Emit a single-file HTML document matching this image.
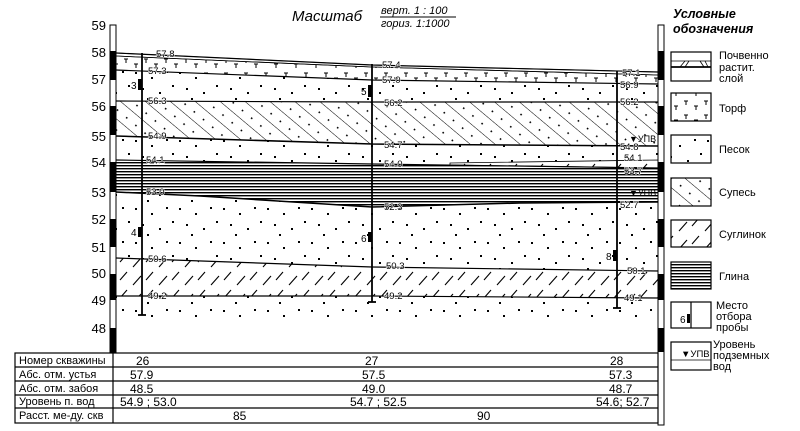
<!DOCTYPE html>
<html><head><meta charset="utf-8"><style>
html,body{margin:0;padding:0;background:#fff;width:800px;height:431px;overflow:hidden}
text{font-family:"Liberation Sans",sans-serif;fill:#000}
</style></head><body>
<svg width="800" height="431" viewBox="0 0 800 431" xmlns="http://www.w3.org/2000/svg">
<defs>
<pattern id="sand" width="44" height="34" patternUnits="userSpaceOnUse">
<g fill="#000"><rect x="3" y="4" width="2" height="2"/><rect x="19" y="9" width="2" height="2"/><rect x="34" y="3" width="2" height="2"/><rect x="10" y="20" width="2" height="2"/><rect x="27" y="24" width="2" height="2"/><rect x="40" y="17" width="2" height="2"/><rect x="15" y="30" width="2" height="2"/></g>
</pattern>
<pattern id="peat" width="20" height="14" patternUnits="userSpaceOnUse">
<g stroke="#000" stroke-width="1"><path d="M4 3h4M6 3v4M14 8h4M16 8v4"/></g>
</pattern>
<pattern id="supes" width="24" height="16" patternUnits="userSpaceOnUse" patternTransform="rotate(40)">
<line x1="0" y1="0" x2="24" y2="0" stroke="#000" stroke-width="1"/>
<g fill="#000"><rect x="4" y="8" width="1.6" height="1.6"/><rect x="16" y="8" width="1.6" height="1.6"/></g>
</pattern>
<pattern id="sugl" width="26" height="18" patternUnits="userSpaceOnUse">
<g stroke="#000" stroke-width="1.1"><path d="M3 15L11 6M16 10L23 2"/></g>
</pattern>
<pattern id="clay" width="10" height="3" patternUnits="userSpaceOnUse">
<rect x="0" y="0" width="10" height="1.4" fill="#000"/>
</pattern>
</defs>

<!-- header -->
<text x="292" y="21" font-size="15" font-style="italic">Масштаб</text>
<text x="381" y="14" font-size="11" font-style="italic">верт. 1 : 100</text>
<line x1="380" y1="17" x2="456" y2="17" stroke="#000" stroke-width="1"/>
<text x="381" y="27" font-size="11" font-style="italic">гориз. 1:1000</text>
<text x="673" y="18" font-size="12.5" font-weight="bold" font-style="italic">Условные</text>
<text x="673" y="33" font-size="12.5" font-weight="bold" font-style="italic">обозначения</text>

<!-- layers -->
<polygon points="116,53 372,65 658,72 658,75 372,67 116,56" fill="#fff" stroke="#000" stroke-width="0.8"/>
<polygon points="116,56 372,67 658,75 658,84 372,80 116,70" fill="url(#peat)"/>
<polygon points="116,70 372,80 658,84 658,102 372,102 116,101" fill="url(#sand)"/>
<polygon points="116,101 372,102 658,102 658,146 372,144 116,136" fill="url(#supes)"/>
<polygon points="116,136 372,144 658,146 658,160 450,163 372,164 116,160" fill="url(#sand)"/>
<polygon points="450,163 658,160 658,168 450,165" fill="url(#sugl)" stroke="#000" stroke-width="0.8"/>
<polygon points="116,160 372,164 450,165 658,168 658,202 520,203 372,207 200,196 116,192" fill="url(#clay)"/>
<polygon points="116,192 200,196 372,207 520,203 658,202 658,271 372,267 116,258" fill="url(#sand)"/>
<polygon points="116,258 372,267 658,271 658,298 372,296 116,296" fill="url(#sugl)"/>
<polygon points="116,296 372,296 658,298 658,330 116,330" fill="url(#sand)"/>
<rect x="116" y="318" width="542" height="32" fill="#fff"/>

<g stroke="#000" fill="none" stroke-width="1.2">
<polyline points="116,53 372,65 658,72"/>
<polyline points="116,56 372,67 658,75" stroke-width="0.8"/>
<polyline points="116,70 372,80 658,84"/>
<polyline points="116,101 372,102 658,102"/>
<polyline points="116,136 372,144 658,146" stroke-width="1.5"/>
<polyline points="116,160 372,164 658,168"/>
<polyline points="116,192 200,196 372,207 520,203 658,202" stroke-width="1.5"/>
<polyline points="116,258 372,267 658,271"/>
<polyline points="116,296 372,296 658,298"/>
</g>

<!-- wells -->
<g stroke="#000" stroke-width="1.8">
<line x1="142" y1="53" x2="142" y2="315"/><line x1="138" y1="315" x2="146" y2="315"/>
<line x1="372" y1="64" x2="372" y2="302"/><line x1="368" y1="302" x2="376" y2="302"/>
<line x1="617" y1="71" x2="617" y2="308"/><line x1="613" y1="308" x2="621" y2="308"/>
</g>
<g fill="#000">
<rect x="138" y="79" width="4" height="11"/><rect x="368" y="85" width="4" height="12"/>
<rect x="138" y="227" width="4" height="10"/><rect x="368" y="232" width="4" height="10"/>
<rect x="613" y="250" width="4" height="11"/>
</g>
<g font-size="10">
<text x="131" y="89">3</text><text x="361" y="95">5</text><text x="131" y="236">4</text><text x="361" y="242">6</text><text x="606" y="260">8</text>
</g>

<!-- elevation labels -->
<g font-size="9.5" style="paint-order:stroke" stroke="#fff" stroke-width="1">
<text x="156" y="57">57.8</text><text x="148" y="74">57.3</text><text x="148" y="104">56.3</text><text x="148" y="139">54.9</text>
<text x="146" y="163">54.1</text><text x="146" y="195">53.0</text><text x="148" y="262">50.6</text><text x="148" y="299">49.2</text>
<text x="382" y="68">57.4</text><text x="382" y="83">57.0</text><text x="384" y="106">56.2</text><text x="384" y="148">54.7</text>
<text x="384" y="167">54.0</text><text x="384" y="210">52.3</text><text x="386" y="269">50.3</text><text x="384" y="299">49.2</text>
<text x="622" y="76">57.1</text><text x="620" y="88">56.9</text><text x="620" y="105">56.2</text><text x="620" y="150">54.8</text>
<text x="624" y="161">54.1</text><text x="624" y="174">53.7</text><text x="620" y="208">52.7</text><text x="627" y="274">50.1</text><text x="624" y="301">49.1</text>
</g>
<g font-size="9"><text x="629" y="142">▼УПВ</text><text x="629" y="196">▼УПВ</text></g>

<!-- rulers -->
<rect x="110" y="25" width="6" height="327" fill="#fff" stroke="#000" stroke-width="1"/>
<g fill="#000">
<rect x="110" y="51" width="6" height="29"/><rect x="110" y="106" width="6" height="29"/><rect x="110" y="162" width="6" height="30"/>
<rect x="110" y="219" width="6" height="28"/><rect x="110" y="274" width="6" height="26"/><rect x="110" y="328" width="6" height="24"/>
</g>
<rect x="658" y="25" width="6" height="400" fill="#fff" stroke="#000" stroke-width="1"/>
<g fill="#000">
<rect x="658" y="51" width="6" height="29"/><rect x="658" y="106" width="6" height="29"/><rect x="658" y="162" width="6" height="30"/>
<rect x="658" y="219" width="6" height="28"/><rect x="658" y="274" width="6" height="26"/><rect x="658" y="328" width="6" height="24"/>
</g>
<g font-size="13" text-anchor="end">
<text x="106" y="30">59</text><text x="106" y="57">58</text><text x="106" y="84">57</text><text x="106" y="111">56</text>
<text x="106" y="141">55</text><text x="106" y="167">54</text><text x="106" y="197">53</text><text x="106" y="224">52</text>
<text x="106" y="252">51</text><text x="106" y="278">50</text><text x="106" y="305">49</text><text x="106" y="333">48</text>
</g>

<!-- table -->
<g stroke="#000" stroke-width="1.2" fill="none">
<rect x="15" y="353" width="643" height="70"/>
<line x1="15" y1="367" x2="658" y2="367"/><line x1="15" y1="381" x2="658" y2="381"/>
<line x1="15" y1="395" x2="658" y2="395"/><line x1="15" y1="408" x2="658" y2="408"/>
<line x1="113" y1="353" x2="113" y2="423"/>
</g>
<g font-size="11">
<text x="19" y="364">Номер скважины</text><text x="19" y="378">Абс. отм. устья</text><text x="19" y="392">Абс. отм. забоя</text>
<text x="19" y="405">Уровень п. вод</text><text x="19" y="419">Расст. ме-ду. скв</text>
</g>
<g font-size="12">
<text x="136" y="365">26</text><text x="130" y="379">57.9</text><text x="130" y="393">48.5</text><text x="120" y="406">54.9 ; 53.0</text>
<text x="365" y="365">27</text><text x="362" y="379">57.5</text><text x="362" y="393">49.0</text><text x="350" y="406">54.7 ; 52.5</text>
<text x="610" y="365">28</text><text x="609" y="379">57.3</text><text x="609" y="393">48.7</text><text x="596" y="406">54.6; 52.7</text>
<text x="233" y="420">85</text><text x="477" y="420">90</text>
</g>

<!-- legend -->
<g stroke="#000" stroke-width="1.2">
<rect x="671" y="52" width="40" height="29" fill="#fff"/>
<line x1="671" y1="61" x2="711" y2="61" stroke-width="0.8"/><line x1="671" y1="67" x2="711" y2="67" stroke-width="1.8"/>
<path d="M680 67l5-6M685 67l4-6M700 61l4 6M705 61l3 6" stroke-width="0.8"/>
<rect x="671" y="93" width="40" height="28" fill="url(#peat)"/>
<rect x="671" y="135" width="40" height="28" fill="url(#sand)"/>
<rect x="671" y="178" width="40" height="28" fill="url(#supes)"/>
<rect x="671" y="220" width="40" height="27" fill="url(#sugl)"/>
<rect x="671" y="262" width="40" height="27" fill="url(#clay)"/>
<rect x="671" y="302" width="40" height="26" fill="#fff"/><line x1="691" y1="302" x2="691" y2="328"/>
<rect x="671" y="342" width="40" height="28" fill="#fff"/><line x1="671" y1="360" x2="711" y2="360" stroke-width="0.8"/>
</g>
<rect x="687" y="314" width="3" height="9" fill="#000"/>
<text x="680" y="323" font-size="10">6</text>
<text x="681" y="357" font-size="9.5">▼УПВ</text>
<g font-size="11">
<text x="719" y="59">Почвенно</text><text x="719" y="71">растит.</text><text x="719" y="82">слой</text>
<text x="719" y="112">Торф</text><text x="719" y="153">Песок</text><text x="719" y="196">Супесь</text>
<text x="719" y="238">Суглинок</text><text x="719" y="280">Глина</text>
<text x="716" y="309">Место</text><text x="716" y="320">отбора</text><text x="716" y="331">пробы</text>
<text x="713" y="348">Уровень</text><text x="713" y="359">подземных</text><text x="713" y="370">вод</text>
</g>
</svg>
</body></html>
